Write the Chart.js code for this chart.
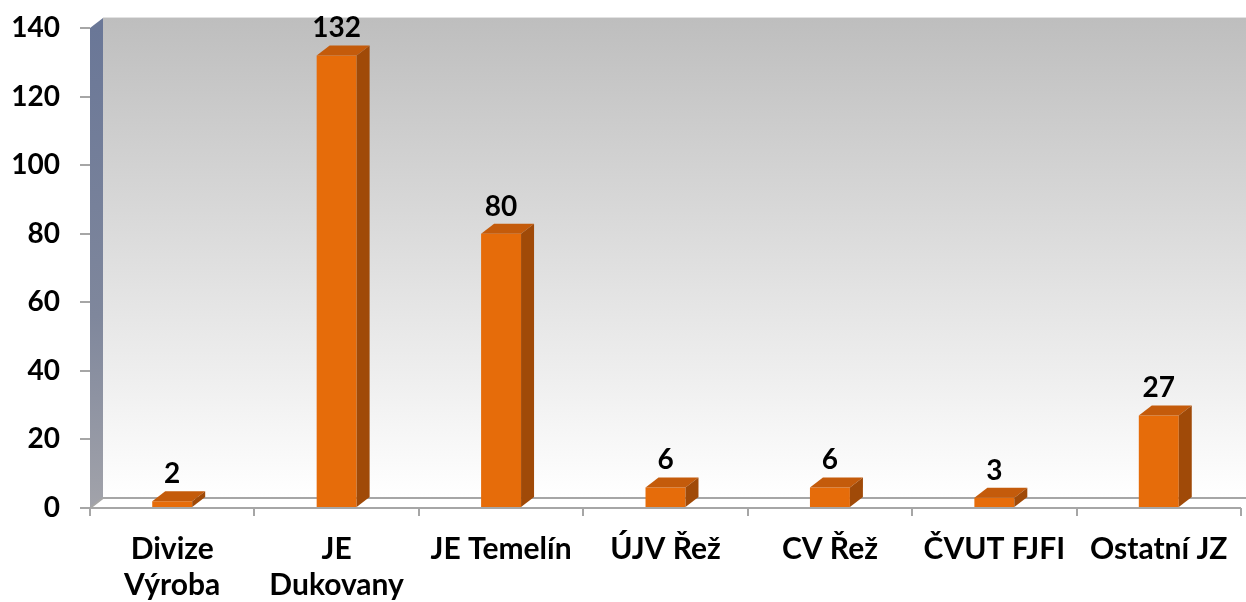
<!DOCTYPE html>
<html>
<head>
<meta charset="utf-8">
<script src="https://cdn.jsdelivr.net/npm/chart.js@4/dist/chart.umd.min.js"></script>
<style>
  body { margin: 0; background: #fff; }
</style>
</head>
<body>
<canvas id="myChart" width="1246" height="602"></canvas>
<script>
// categories and values
const categories = [['Divize', 'Výroba'], ['JE', 'Dukovany'], 'JE Temelín', 'ÚJV Řež', 'CV Řež', 'ČVUT FJFI', 'Ostatní JZ'];
const counts = [2, 132, 80, 6, 6, 3, 27];
const yTicks = [0, 20, 40, 60, 80, 100, 120, 140];

// depth of the fake 3D look
const DX = 13, DY = -10;
const FONT = 'Lato, "Open Sans", sans-serif';

// walls and floor behind the bars
const wallsPlugin = {
  id: 'walls',
  beforeDatasetsDraw(chart) {
    const ctx = chart.ctx;
    const a = chart.chartArea;
    ctx.save();

    // back wall
    let g = ctx.createLinearGradient(0, a.top + DY, 0, a.bottom + DY);
    g.addColorStop(0, '#bebebe');
    g.addColorStop(1, '#ffffff');
    ctx.fillStyle = g;
    ctx.fillRect(a.left + DX, a.top + DY, a.right - a.left + 20, a.bottom - a.top);
    ctx.fillStyle = '#e2e2e2';
    ctx.fillRect(a.left + DX, a.top + DY - 1, a.right - a.left + 20, 1);

    // side wall
    g = ctx.createLinearGradient(0, a.top, 0, a.bottom);
    g.addColorStop(0, '#6a7797');
    g.addColorStop(0.6, '#7f879c');
    g.addColorStop(1, '#a2a3aa');
    ctx.fillStyle = g;
    ctx.beginPath();
    ctx.moveTo(a.left, a.top);
    ctx.lineTo(a.left + DX, a.top + DY);
    ctx.lineTo(a.left + DX, a.bottom + DY);
    ctx.lineTo(a.left, a.bottom);
    ctx.closePath();
    ctx.fill();

    // floor
    ctx.fillStyle = '#ffffff';
    ctx.beginPath();
    ctx.moveTo(a.left, a.bottom);
    ctx.lineTo(a.right, a.bottom);
    ctx.lineTo(a.right + DX, a.bottom + DY);
    ctx.lineTo(a.left + DX, a.bottom + DY);
    ctx.closePath();
    ctx.fill();
    ctx.strokeStyle = '#a6a6a6';
    ctx.lineWidth = 2;
    ctx.beginPath();
    ctx.moveTo(a.left, a.bottom);
    ctx.lineTo(a.right, a.bottom);
    ctx.moveTo(a.left + DX, a.bottom + DY);
    ctx.lineTo(a.right + DX + 10, a.bottom + DY);
    ctx.moveTo(a.left, a.bottom);
    ctx.lineTo(a.left + DX, a.bottom + DY);
    ctx.stroke();
    ctx.restore();
  },
  afterDatasetsDraw(chart) {
    const ctx = chart.ctx;
    const meta = chart.getDatasetMeta(0);
    ctx.save();
    meta.data.forEach((bar, i) => {
      const p = bar.getProps(['x', 'y', 'base', 'width'], true);
      const l = p.x - p.width / 2, r = p.x + p.width / 2;
      // top face
      ctx.fillStyle = '#c45b0b';
      ctx.beginPath();
      ctx.moveTo(l, p.y);
      ctx.lineTo(l + DX, p.y + DY);
      ctx.lineTo(r + DX, p.y + DY);
      ctx.lineTo(r, p.y);
      ctx.closePath();
      ctx.fill();
      // side face
      ctx.fillStyle = '#a04a08';
      ctx.beginPath();
      ctx.moveTo(r, p.y);
      ctx.lineTo(r + DX, p.y + DY);
      ctx.lineTo(r + DX, p.base + DY);
      ctx.lineTo(r, p.base);
      ctx.closePath();
      ctx.fill();
      // value label
      ctx.fillStyle = '#000';
      ctx.font = 'bold 28px ' + FONT;
      ctx.textAlign = 'center';
      ctx.textBaseline = 'alphabetic';
      ctx.fillText(counts[i], p.x, p.y + DY - 8);
    });
    ctx.restore();
  }
};

new Chart(document.getElementById('myChart'), {
  type: 'bar',
  data: {
    labels: categories,
    datasets: [{
      label: 'Počet',
      data: counts,
      backgroundColor: '#e66c0a',
      borderWidth: 0,
      barPercentage: 0.243,
      categoryPercentage: 1
    }]
  },
  options: {
    responsive: false,
    animation: false,
    layout: { autoPadding: false, padding: { top: 28, right: 5, left: 0, bottom: 0 } },
    plugins: { legend: { display: false }, tooltip: { enabled: false } },
    scales: {
      x: {
        afterFit(scale) { scale.height = 94; scale.paddingLeft = 0; scale.paddingRight = 0; },
        border: { display: false },
        grid: { display: true, offset: true, drawOnChartArea: false, tickLength: 8, color: '#a6a6a6', lineWidth: 2 },
        ticks: {
          color: '#000', font: { family: FONT, size: 30, weight: 'bold', lineHeight: 1.2 },
          padding: 15, maxRotation: 0, autoSkip: false
        }
      },
      y: {
        min: 0, max: 140,
        afterFit(scale) { scale.width = 90; scale.paddingTop = 0; scale.paddingBottom = 0; },
        afterBuildTicks(scale) { scale.ticks = yTicks.map(v => ({ value: v })); },
        border: { display: false },
        grid: { display: true, drawOnChartArea: false, tickLength: 10, color: '#a6a6a6', lineWidth: 2 },
        ticks: { color: '#000', font: { family: FONT, size: 28, weight: 'bold' }, padding: 20 }
      }
    }
  },
  plugins: [wallsPlugin]
});
</script>
</body>
</html>
